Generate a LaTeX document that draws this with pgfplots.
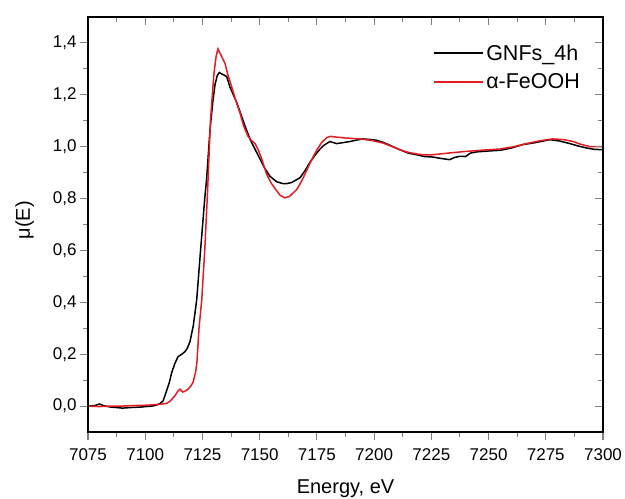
\documentclass[border=0pt]{standalone}
\usepackage{pgfplots}
\pgfplotsset{compat=1.18}
\usepackage{fontspec}
\setmainfont{Liberation Sans}
\definecolor{mred}{RGB}{228,28,34}
\begin{document}
\begin{tikzpicture}
\pgfplotsset{
  base/.style={
    scale only axis, width=515bp, height=415bp,
    xmin=7075, xmax=7300, ymin=-0.1, ymax=1.5,
    xtick={7075,7100,...,7300}, minor x tick num=1,
    ytick={0,0.2,...,1.4}, minor y tick num=1,
    axis line style={line width=1.1bp},
    major tick style={line width=1.1bp},
    minor tick style={line width=1bp},
    major tick length=8bp, minor tick length=5bp,
  }
}
\begin{axis}[base,
  axis lines=box,
  xtick pos=bottom, ytick pos=left, tick align=outside,
  ticklabel style={font=\fontsize{17bp}{20bp}\selectfont},
  /pgf/number format/assume math mode=true,
  yticklabel style={/pgf/number format/.cd, fixed, fixed zerofill, precision=1, use comma},
  xticklabel style={yshift=-5bp, /pgf/number format/.cd, 1000 sep={}},
  xlabel={Energy, eV}, ylabel={μ(E)},
  label style={font=\fontsize{20bp}{24bp}\selectfont},
  xlabel style={at={(axis description cs:0.5,-0.107)}, anchor=north},
  ylabel style={at={(axis description cs:-0.098,0.51)}, anchor=south},
  legend style={draw=none, fill=none, at={(axis description cs:0.67,0.94)}, anchor=north west,
    font=\fontsize{21.5bp}{24bp}\selectfont, row sep=7bp, inner sep=0pt,
    nodes={inner sep=2.5bp}},
  legend cell align=left,
  legend image code/.code={\draw[#1] (0bp,0bp) -- (49bp,0bp);},
]
\addplot[black, line width=1.5bp] coordinates {
(7075,0.0) (7078,0.002) (7080,0.008) (7082,0.001) (7085,-0.004) (7088,-0.006) (7090,-0.008) (7093,-0.006) (7095,-0.005) (7098,-0.004) (7100,-0.002) (7103,0.0) (7105,0.004) (7106.5,0.01) (7107.8,0.02) (7109,0.05) (7110.5,0.09) (7111.6,0.13) (7113,0.165) (7114.3,0.19) (7116,0.2) (7117.4,0.21) (7118.5,0.225) (7119.6,0.25) (7121,0.31) (7122.5,0.41) (7124,0.58) (7125,0.69) (7126,0.8) (7126.8,0.873) (7128.3,1.065) (7129.5,1.17) (7130.5,1.24) (7131.5,1.275) (7132.4,1.286) (7133.5,1.28) (7134.5,1.276) (7135.6,1.27) (7137,1.23) (7138.5,1.2) (7140,1.17) (7142,1.12) (7144,1.07) (7146,1.025) (7148,0.99) (7150,0.955) (7152,0.92) (7154.5,0.886) (7157.4,0.865) (7160,0.858) (7162,0.858) (7164,0.862) (7167.6,0.88) (7170,0.91) (7172,0.94) (7174,0.965) (7176.3,0.99) (7178,1.005) (7180.7,1.02) (7183.6,1.012) (7186,1.015) (7189.5,1.02) (7192,1.025) (7195,1.03) (7198,1.028) (7201,1.025) (7203.9,1.017) (7207,1.005) (7211.3,0.988) (7215,0.975) (7218.6,0.969) (7222,0.962) (7225.8,0.96) (7229,0.955) (7233,0.95) (7235,0.958) (7237.4,0.963) (7240,0.962) (7242,0.975) (7244.8,0.98) (7248,0.982) (7251,0.984) (7255,0.986) (7260,0.995) (7265,1.008) (7270,1.015) (7276.8,1.027) (7281,1.022) (7285.5,1.012) (7289,1.003) (7292.8,0.995) (7296,0.99) (7300,0.988)
};
\addlegendentry{GNFs\_4h}
\addplot[mred, line width=1.5bp] coordinates {
(7075,0.0) (7080,-0.002) (7085,0.0) (7090,0.0) (7095,0.002) (7100,0.003) (7105,0.006) (7109.4,0.01) (7111,0.02) (7113,0.04) (7114.3,0.058) (7115.2,0.065) (7116.4,0.054) (7117.5,0.058) (7118.7,0.065) (7120,0.078) (7120.9,0.092) (7122,0.13) (7122.6,0.17) (7123.5,0.30) (7124.7,0.41) (7126,0.6) (7127.2,0.82) (7128.5,1.1) (7130,1.28) (7131,1.35) (7131.8,1.377) (7133,1.355) (7134.9,1.32) (7136,1.28) (7137.8,1.23) (7139.5,1.18) (7141.4,1.13) (7143,1.08) (7144.9,1.04) (7146.3,1.025) (7148,1.012) (7149.5,0.985) (7151,0.95) (7153,0.895) (7155,0.86) (7157,0.835) (7159,0.812) (7161,0.803) (7163,0.808) (7166.2,0.835) (7168.5,0.87) (7170.6,0.91) (7173,0.955) (7175,0.988) (7177,1.015) (7179.3,1.035) (7181,1.04) (7183.6,1.037) (7188,1.033) (7193.9,1.03) (7199,1.024) (7203.9,1.014) (7208,1.0) (7211.3,0.988) (7215,0.978) (7218.6,0.972) (7222,0.968) (7225.8,0.969) (7232,0.975) (7240.4,0.982) (7248,0.987) (7255,0.991) (7261,1.0) (7266.6,1.012) (7272,1.022) (7278,1.03) (7283,1.027) (7286.9,1.02) (7290,1.01) (7294.3,1.0) (7300,1.0)
};
\addlegendentry{α-FeOOH}
\coordinate (SW) at (rel axis cs:0,0);
\coordinate (NE) at (rel axis cs:1,1);
\end{axis}
\begin{axis}[base,
  axis lines=box,
  xtick pos=top, ytick pos=right, tick align=inside,
  xticklabels={}, yticklabels={},
]
\end{axis}
\pgfresetboundingbox
\path ([shift={(-88bp,-67bp)}]SW) rectangle ([shift={(22bp,17bp)}]NE);
\end{tikzpicture}
\end{document}
